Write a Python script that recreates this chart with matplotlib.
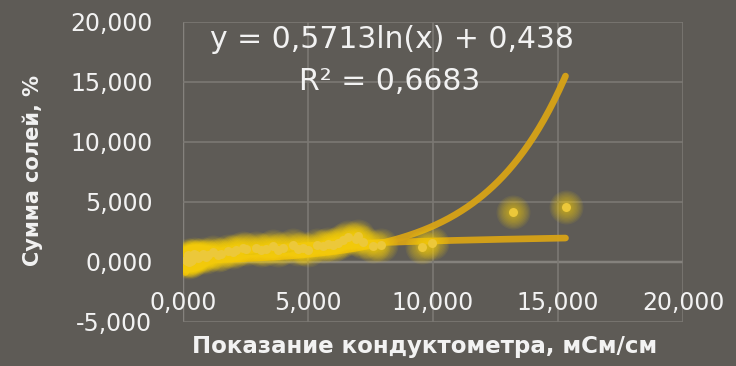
import matplotlib
matplotlib.use('Agg')
import matplotlib.pyplot as plt
import numpy as np
from matplotlib.ticker import FuncFormatter

# Conductometer reading, mS/cm, and total salts, %
conductivity = [0.1, 0.15, 0.2, 0.2, 0.25, 0.3, 0.3, 0.35, 0.4, 0.45, 0.5, 0.6,
                0.7, 0.8, 0.9, 1.0, 1.2, 1.4, 1.5, 1.8, 2.0, 2.1, 2.4, 2.5,
                2.9, 3.1, 3.3, 3.6, 3.8, 4.0, 4.4, 4.6, 4.8, 5.0, 5.36, 5.6,
                5.8, 6.0, 6.2, 6.4, 6.6, 6.9, 7.0, 7.2, 7.6, 7.9, 9.56, 9.96,
                13.2, 15.3]
salts = [0.2, 0.1, 0.3, 0.6, 0.0, 0.5, 0.1, 0.2, 0.4, 0.7, 0.6, 0.3,
         0.5, 0.7, 0.4, 0.6, 0.8, 0.6, 0.7, 0.9, 0.8, 1.0, 1.2, 1.1,
         1.2, 1.0, 1.1, 1.3, 1.0, 1.2, 1.4, 1.1, 1.2, 1.0, 1.42, 1.3,
         1.5, 1.4, 1.6, 1.8, 2.1, 1.9, 2.2, 1.7, 1.3, 1.4, 1.25, 1.58,
         4.17, 4.58]

# trend coefficients
log_a, log_b = 0.5713, 0.438
r2 = 0.6683
exp_a, exp_b = 0.135, 0.31

bgColor   = '#5e5b56'
gridColor = '#7c7974'
textColor = '#f2f2f2'
lineColor = '#d8a316'
dotColor  = '#ecc83a'
glowColor = '#ffd60a'

plt.rcParams['font.family'] = ['DejaVu Sans']

fig = plt.figure(figsize=(7.36, 3.66), dpi=100, facecolor=bgColor)
ax = fig.add_axes([183/736, 44/366, 500/736, 300/366])
ax.set_facecolor(bgColor)

ax.set_xlim(0, 20)
ax.set_ylim(-5, 20)
ax.set_xticks([0, 5, 10, 15, 20])
ax.set_yticks([-5, 0, 5, 10, 15, 20])
ax.grid(True, color=gridColor, linewidth=1.2, zorder=0)
for s in ax.spines.values():
    s.set_visible(False)
ax.axhline(0, color='#b5b3ae', linewidth=1.6, zorder=1)
ax.axvline(0, color='#b5b3ae', linewidth=1.6, zorder=1)

fmt = FuncFormatter(lambda v, pos: f'{v:.3f}'.replace('.', ','))
ax.xaxis.set_major_formatter(fmt)
ax.yaxis.set_major_formatter(fmt)
ax.tick_params(axis='x', length=0, pad=-22, labelsize=17, labelcolor=textColor)
ax.tick_params(axis='y', length=0, pad=22, labelsize=17, labelcolor=textColor)

# trend lines over the data range
xs = np.linspace(min(conductivity), max(conductivity), 300)
ax.plot(xs, log_a*np.log(xs) + log_b, color=lineColor, lw=4.8,
        solid_capstyle='round', alpha=0.95, zorder=2)
ax.plot(xs, exp_a*np.exp(exp_b*xs), color=lineColor, lw=4.8,
        solid_capstyle='round', alpha=0.95, zorder=2)

# soft glow: many thin layers so the halo fades smoothly
for size in np.linspace(34, 11, 10):
    ax.plot(conductivity, salts, 'o', ms=size*0.72, color=glowColor,
            alpha=0.075, mec='none', zorder=3)
ax.plot(conductivity, salts, 'o', ms=9*0.72, color=dotColor, mec='none', zorder=4)

ax.text(0.418, 0.94, 'y = 0,5713ln(x) + 0,438', transform=ax.transAxes,
        ha='center', va='center', fontsize=21.5, color=textColor)
ax.text(0.414, 0.80, 'R² = 0,6683', transform=ax.transAxes,
        ha='center', va='center', fontsize=21.5, color=textColor)

fig.text(33/736, 1 - 170/366, 'Сумма солей, %', rotation=90, ha='center',
         va='center', fontsize=15, fontweight='bold', color=textColor)
fig.text(425/736, 1 - 347/366, 'Показание кондуктометра, мСм/см', ha='center',
         va='center', fontsize=16.5, fontweight='bold', color=textColor)

fig.savefig('out.png', dpi=100, facecolor=bgColor)
